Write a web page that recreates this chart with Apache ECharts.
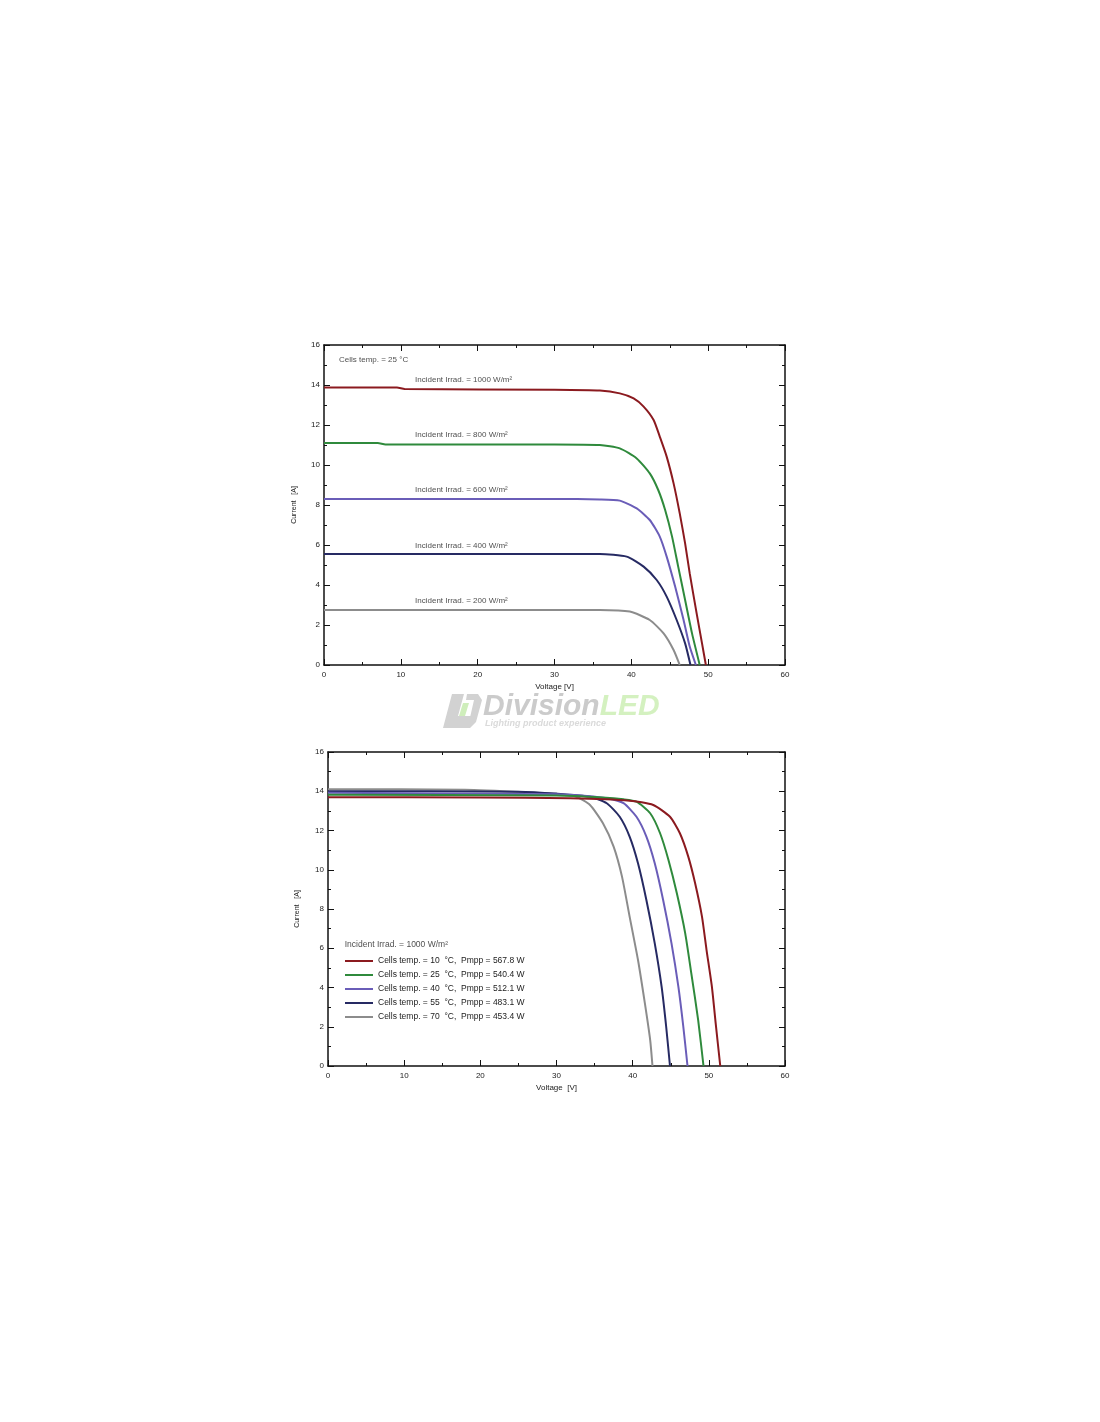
<!DOCTYPE html>
<html>
<head>
<meta charset="utf-8">
<script src="https://cdn.jsdelivr.net/npm/echarts@6/dist/echarts.min.js"></script>
<style>
html,body{margin:0;padding:0;background:#fff;}
#c{width:1100px;height:1422px;}
</style>
</head>
<body>
<div id="c"></div>
<script>
// ---------- DATA ----------
const xTicks = [0, 10, 20, 30, 40, 50, 60];
const yTicks = [0, 2, 4, 6, 8, 10, 12, 14, 16];

// Chart 1: Cells temp 25 °C, varying irradiance  [V, A]
const irr1000 = [[0,13.88],[9.5,13.88],[10.5,13.8],[30,13.76],[35.9,13.72],[38.5,13.58],[40.3,13.33],[41.6,12.92],[42.9,12.25],[43.7,11.42],[44.6,10.42],[45.5,9.08],[46.3,7.58],[47.0,6.08],[47.6,4.58],[48.5,2.58],[49.2,1.08],[49.7,0]];
const irr800  = [[0,11.1],[7,11.1],[8,11.03],[30,11.03],[35.9,11.0],[38.5,10.83],[40.7,10.33],[42.4,9.58],[43.5,8.75],[44.4,7.75],[45.3,6.42],[46.1,4.92],[47.0,3.25],[47.9,1.58],[48.9,0]];
const irr600  = [[0,8.3],[30,8.3],[35.9,8.28],[38.5,8.22],[40.7,7.83],[42.4,7.25],[43.7,6.42],[44.6,5.42],[45.7,3.92],[46.8,2.25],[47.6,0.92],[48.4,0]];
const irr400  = [[0,5.55],[30,5.55],[35.9,5.55],[39.4,5.42],[41.6,4.92],[43.3,4.25],[44.6,3.42],[45.9,2.25],[47.0,1.08],[47.7,0]];
const irr200  = [[0,2.75],[30,2.75],[35.9,2.75],[39.8,2.67],[42.4,2.25],[44.2,1.58],[45.5,0.75],[46.3,0]];
const irrNames = ['Incident Irrad. = 1000 W/m²','Incident Irrad. = 800 W/m²','Incident Irrad. = 600 W/m²','Incident Irrad. = 400 W/m²','Incident Irrad. = 200 W/m²'];
const irrLabelPos = [[11.85,14.25],[11.85,11.5],[11.85,8.75],[11.85,5.95],[11.85,3.2]];
const chart1Note = 'Cells temp. = 25 °C';
const chart1NotePos = [1.95,15.25];

// Chart 2: Incident irradiance 1000 W/m², varying cell temp  [V, A]
const t10 = [[0,13.7],[20,13.68],[31.8,13.64],[39.6,13.52],[42.7,13.3],[44.9,12.7],[46.2,11.86],[47.3,10.67],[48.2,9.31],[49.1,7.61],[49.7,5.91],[50.4,4.04],[50.9,2.17],[51.5,0]];
const t25 = [[0,13.82],[30,13.78],[36,13.68],[38.8,13.59],[40.5,13.47],[42.3,12.88],[43.6,11.86],[44.7,10.5],[45.8,8.8],[46.9,6.76],[47.7,4.72],[48.6,2.34],[49.3,0]];
const t40 = [[0,13.92],[30,13.85],[34,13.76],[36.6,13.64],[38.8,13.39],[40.5,12.7],[41.8,11.69],[42.9,10.33],[44.0,8.46],[45.1,6.25],[46.0,4.04],[46.65,2.0],[47.2,0]];
const t55 = [[0,14.0],[25,13.98],[30,13.88],[34.4,13.72],[36.6,13.39],[38.3,12.7],[39.6,11.69],[40.7,10.33],[41.8,8.46],[42.9,6.25],[43.8,4.04],[44.4,2.0],[44.9,0]];
const t70 = [[0,14.1],[18,14.08],[26,13.95],[30,13.85],[32.6,13.72],[34.4,13.3],[36.1,12.37],[37.5,11.18],[38.6,9.65],[39.6,7.61],[40.7,5.4],[41.6,3.2],[42.3,1.32],[42.6,0]];
const tempNames = ['Cells temp. = 10  °C,  Pmpp = 567.8 W','Cells temp. = 25  °C,  Pmpp = 540.4 W','Cells temp. = 40  °C,  Pmpp = 512.1 W','Cells temp. = 55  °C,  Pmpp = 483.1 W','Cells temp. = 70  °C,  Pmpp = 453.4 W'];
const chart2Note = 'Incident Irrad. = 1000 W/m²';
const chart2NotePos = [2.2,6.2];

const xName = ['Voltage [V]', 'Voltage  [V]'];
const yName = 'Current   [A]';

// ---------- STYLE ----------
const colors = ['#8b1a1f', '#2f8a3c', '#6a5db8', '#262a63', '#8c8c8c'];
const FONT = '"Liberation Sans", Arial, sans-serif';
const txt = '#222';

function xAxes(gi, name) {
  const common = {
    type: 'value', gridIndex: gi, min: 0, max: 60, interval: 10,
    axisLine: { show: true, onZero: false, lineStyle: { color: '#111', width: 1.5 } },
    axisTick: { show: true, inside: true, length: 6, lineStyle: { color: '#111', width: 1 } },
    minorTick: { show: true, splitNumber: 2, length: 3, lineStyle: { color: '#111', width: 1 } },
    splitLine: { show: false }
  };
  return [
    Object.assign({}, common, {
      position: 'bottom', name: name, nameLocation: 'middle', nameGap: 18,
      nameTextStyle: { fontFamily: FONT, fontSize: 8, color: txt },
      axisLabel: { show: true, fontFamily: FONT, fontSize: 8, color: txt, margin: 6 }
    }),
    Object.assign({}, common, { position: 'top', axisLabel: { show: false } })
  ];
}
function yAxes(gi, gap) {
  const common = {
    type: 'value', gridIndex: gi, min: 0, max: 16, interval: 2,
    axisLine: { show: true, onZero: false, lineStyle: { color: '#111', width: 1.5 } },
    axisTick: { show: true, inside: true, length: 6, lineStyle: { color: '#111', width: 1 } },
    minorTick: { show: true, splitNumber: 2, length: 3, lineStyle: { color: '#111', width: 1 } },
    splitLine: { show: false }
  };
  return [
    Object.assign({}, common, {
      position: 'left', name: yName, nameLocation: 'middle', nameGap: gap,
      nameTextStyle: { fontFamily: FONT, fontSize: 7, color: txt },
      axisLabel: { show: true, fontFamily: FONT, fontSize: 8, color: txt, margin: 4 }
    }),
    Object.assign({}, common, { position: 'right', axisLabel: { show: false } })
  ];
}

const lineCommon = { symbol: 'none', smooth: 0.2, silent: true };
const series = [];
[irr1000, irr800, irr600, irr400, irr200].forEach((d, i) => {
  series.push(Object.assign({
    type: 'line', name: 'irr' + i, xAxisIndex: 0, yAxisIndex: 0, data: d,
    lineStyle: { color: colors[i], width: 2 }, itemStyle: { color: colors[i] }, z: 5 - i
  }, lineCommon));
});
[t10, t25, t40, t55, t70].forEach((d, i) => {
  series.push(Object.assign({
    type: 'line', name: tempNames[i], xAxisIndex: 2, yAxisIndex: 2, data: d,
    lineStyle: { color: colors[i], width: 2 }, itemStyle: { color: colors[i] }, z: 5 - i
  }, lineCommon));
});

// Annotation text series
const lbl = (fs) => ({
  show: true, position: 'right', distance: 0, formatter: p => p.data.t,
  fontFamily: FONT, fontSize: fs, color: txt
});
series.push({
  type: 'scatter', xAxisIndex: 0, yAxisIndex: 0, symbolSize: 0, silent: true,
  data: irrLabelPos.map((p, i) => ({ value: p, t: irrNames[i] })).concat([{ value: chart1NotePos, t: chart1Note }]),
  label: lbl(8)
});
series.push({
  type: 'scatter', xAxisIndex: 2, yAxisIndex: 2, symbolSize: 0, silent: true,
  data: [{ value: chart2NotePos, t: chart2Note }],
  label: lbl(8.5)
});

const option = {
  backgroundColor: '#fff',
  animation: false,
  grid: [
    { left: 324, top: 345, width: 461, height: 320 },
    { left: 328, top: 752, width: 457, height: 314 }
  ],
  xAxis: xAxes(0, xName[0]).concat(xAxes(1, xName[1])),
  yAxis: yAxes(0, 26).concat(yAxes(1, 27)),
  legend: {
    data: tempNames, orient: 'vertical', left: 345, top: 956, padding: 0,
    icon: 'rect', itemWidth: 28, itemHeight: 2, itemGap: 4,
    textStyle: { fontFamily: FONT, fontSize: 8.5, color: txt, lineHeight: 10 },
    selectedMode: false
  },
  series: series,
  graphic: [
    { type: 'polygon', shape: { points: [[452,694],[464,694],[458,716],[472,716],[469,728],[443,728]] }, style: { fill: '#d2d2d2' }, silent: true },
    { type: 'polygon', shape: { points: [[467,694],[478,694],[482,700],[476,722],[470,728],[461,728],[463,722],[469,722],[474,700],[466,700]] }, style: { fill: '#d2d2d2' }, silent: true },
    { type: 'polygon', shape: { points: [[463,703],[469,703],[465,716],[459,716]] }, style: { fill: '#cfeebb' }, silent: true },
    { type: 'text', left: 483, top: 692, style: {
        text: '{a|Division}{b|LED}',
        rich: {
          a: { font: 'italic bold 30px ' + FONT, fill: '#cbcbcb' },
          b: { font: 'italic bold 30px ' + FONT, fill: '#d4f1c0' }
        }
      }, silent: true },
    { type: 'text', left: 485, top: 719, style: { text: 'Lighting product experience', font: 'italic bold 9px ' + FONT, fill: '#dadada' }, silent: true }
  ]
};

const chart = echarts.init(document.getElementById('c'), null, { renderer: 'canvas' });
chart.setOption(option);
</script>
</body>
</html>
